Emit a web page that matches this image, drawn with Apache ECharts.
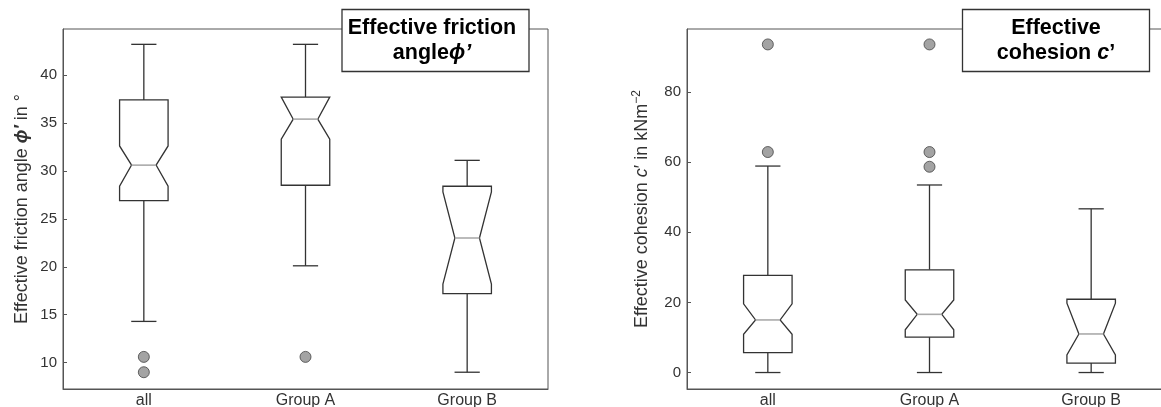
<!DOCTYPE html>
<html><head><meta charset="utf-8">
<script src="https://cdn.jsdelivr.net/npm/echarts@6/dist/echarts.min.js"></script>
<style>html,body{margin:0;padding:0;background:#fff}#c{width:1161px;height:407px}</style>
</head><body><div id="c"></div>
<script>
const categories = ['all', 'Group A', 'Group B'];

// Effective friction angle (degrees)
const phiWhiskerLow  = [14.3, 20.1, 9.0];
const phiQ1          = [26.9, 28.5, 17.2];
const phiNotchLow    = [28.4, 33.3, 18.2];
const phiMedian      = [30.6, 35.4, 23.0];
const phiNotchHigh   = [32.6, 37.7, 27.8];
const phiQ3          = [37.4, 37.7, 28.4];
const phiWhiskerHigh = [43.2, 43.2, 31.1];
const phiOutliers    = [[0, 10.6], [0, 9.0], [1, 10.6]];
const phiTicks       = [10, 15, 20, 25, 30, 35, 40];

// Effective cohesion (kN/m^2)
const cWhiskerLow  = [0, 0, 0];
const cQ1          = [5.7, 10.1, 2.7];
const cNotchLow    = [10.9, 12.2, 5.0];
const cMedian      = [15.0, 16.6, 11.0];
const cNotchHigh   = [19.6, 20.7, 19.8];
const cQ3          = [27.7, 29.3, 20.9];
const cWhiskerHigh = [58.9, 53.5, 46.7];
const cOutliers    = [[0, 93.6], [0, 62.9], [1, 93.6], [1, 62.9], [1, 58.7]];
const cTicks       = [0, 20, 40, 60, 80];

function rows(wl, q1, nl, md, nh, q3, wh) {
  return categories.map((_, i) => [i, wl[i], q1[i], nl[i], md[i], nh[i], q3[i], wh[i]]);
}

const FONT = '"Liberation Sans", Arial, Helvetica, sans-serif';
const LINE = '#333';

function renderBox(params, api) {
  const i = api.value(0);
  const band = api.size([1, 0])[0];
  const bw = band * 0.15, nw = band * 0.076, cw = band * 0.078;
  const x = api.coord([i, 0])[0];
  const y = k => api.coord([i, api.value(k)])[1];
  const wl = y(1), q1 = y(2), nl = y(3), md = y(4), nh = y(5), q3 = y(6), wh = y(7);
  const ls = { stroke: LINE, lineWidth: 1.3 };
  return {
    type: 'group',
    children: [
      { type: 'line', shape: { x1: x, y1: q3, x2: x, y2: wh }, style: ls },
      { type: 'line', shape: { x1: x - cw, y1: wh, x2: x + cw, y2: wh }, style: ls },
      { type: 'line', shape: { x1: x, y1: q1, x2: x, y2: wl }, style: ls },
      { type: 'line', shape: { x1: x - cw, y1: wl, x2: x + cw, y2: wl }, style: ls },
      { type: 'polygon', shape: { points: [
          [x - bw, q3], [x + bw, q3], [x + bw, nh], [x + nw, md], [x + bw, nl],
          [x + bw, q1], [x - bw, q1], [x - bw, nl], [x - nw, md], [x - bw, nh]
        ] }, style: { fill: '#fff', stroke: LINE, lineWidth: 1.3 } },
      { type: 'line', shape: { x1: x - nw, y1: md, x2: x + nw, y2: md }, style: { stroke: '#aaa', lineWidth: 1.6 } }
    ]
  };
}

function xAxis(gi) {
  return {
    type: 'category', gridIndex: gi, data: categories,
    axisLine: { onZero: false, lineStyle: { color: '#555', width: 1 } },
    axisTick: { inside: true, length: 4, alignWithLabel: true, lineStyle: { color: '#555' } },
    axisLabel: { color: '#333', fontSize: 16, fontFamily: FONT, margin: 4 },
    splitLine: { show: false }
  };
}
function yAxis(gi, min, max, ticks, name, rich, gap) {
  return {
    type: 'value', gridIndex: gi, min: min, max: max,
    name: name, nameLocation: 'middle', nameRotate: 90, nameGap: gap,
    nameTextStyle: { color: '#333', fontSize: 18, fontFamily: FONT, rich: rich },
    axisLine: { show: true, onZero: false, lineStyle: { color: '#555', width: 1 } },
    axisTick: { show: true, inside: true, length: 4, customValues: ticks, lineStyle: { color: '#555' } },
    axisLabel: { color: '#333', fontSize: 15, fontFamily: FONT, margin: 6, customValues: ticks },
    splitLine: { show: false }
  };
}

const nameRich = {
  n: { fontSize: 18, fontFamily: FONT, color: '#333' },
  i: { fontSize: 18, fontFamily: FONT, color: '#333', fontStyle: 'italic', fontWeight: 'bold' },
  ci: { fontSize: 18, fontFamily: FONT, color: '#333', fontStyle: 'italic' },
  s: { fontSize: 12, fontFamily: FONT, color: '#333', verticalAlign: 'top', padding: [0, 0, 10, 0] }
};

const titleRich = {
  b: { fontSize: 21.5, fontWeight: 'bold', fontFamily: FONT, color: '#222', lineHeight: 25 },
  bi: { fontSize: 21.5, fontWeight: 'bold', fontStyle: 'italic', fontFamily: FONT, color: '#222', lineHeight: 25 }
};

const option = {
  animation: false,
  backgroundColor: '#fff',
  grid: [
    { left: 63, top: 29, width: 485, height: 360, show: true, borderColor: '#555', borderWidth: 1,
      backgroundColor: 'transparent', outerBoundsMode: 'none', containLabel: false },
    { left: 687, top: 29, width: 485, height: 360, show: true, borderColor: '#555', borderWidth: 1,
      backgroundColor: 'transparent', outerBoundsMode: 'none', containLabel: false }
  ],
  xAxis: [xAxis(0), xAxis(1)],
  yAxis: [
    yAxis(0, 7.25, 44.8, phiTicks, '{n|Effective friction angle }{i|ϕ′}{n| in °}', nameRich, 32),
    yAxis(1, -4.7, 98, cTicks, '{n|Effective cohesion }{ci|c}{n|′ in kNm}{s|−2}', nameRich, 34)
  ],
  series: [
    { type: 'custom', xAxisIndex: 0, yAxisIndex: 0, renderItem: renderBox, clip: false,
      data: rows(phiWhiskerLow, phiQ1, phiNotchLow, phiMedian, phiNotchHigh, phiQ3, phiWhiskerHigh) },
    { type: 'custom', xAxisIndex: 1, yAxisIndex: 1, renderItem: renderBox, clip: false,
      data: rows(cWhiskerLow, cQ1, cNotchLow, cMedian, cNotchHigh, cQ3, cWhiskerHigh) },
    { type: 'scatter', xAxisIndex: 0, yAxisIndex: 0, symbol: 'circle', symbolSize: 11, data: phiOutliers,
      itemStyle: { color: '#8c8c8c', borderColor: '#444', borderWidth: 1 } },
    { type: 'scatter', xAxisIndex: 1, yAxisIndex: 1, symbol: 'circle', symbolSize: 11, data: cOutliers,
      itemStyle: { color: '#8c8c8c', borderColor: '#444', borderWidth: 1 } }
  ],
  graphic: [
    { type: 'rect', z: 100, shape: { x: 342, y: 9.5, width: 187, height: 62 },
      style: { fill: '#fff', stroke: '#333', lineWidth: 1.3 } },
    { type: 'text', z: 101, x: 432, y: 41,
      style: { text: '{b|Effective friction}\n{b|angle}{bi|ϕ’}', rich: titleRich, align: 'center', verticalAlign: 'middle' } },
    { type: 'rect', z: 100, shape: { x: 962.5, y: 9.5, width: 187, height: 62 },
      style: { fill: '#fff', stroke: '#333', lineWidth: 1.3 } },
    { type: 'text', z: 101, x: 1056, y: 41,
      style: { text: '{b|Effective}\n{b|cohesion }{bi|c}{b|’}', rich: titleRich, align: 'center', verticalAlign: 'middle' } }
  ]
};

const chart = echarts.init(document.getElementById('c'), null, { renderer: 'canvas' });
chart.setOption(option);
</script>
</body></html>
